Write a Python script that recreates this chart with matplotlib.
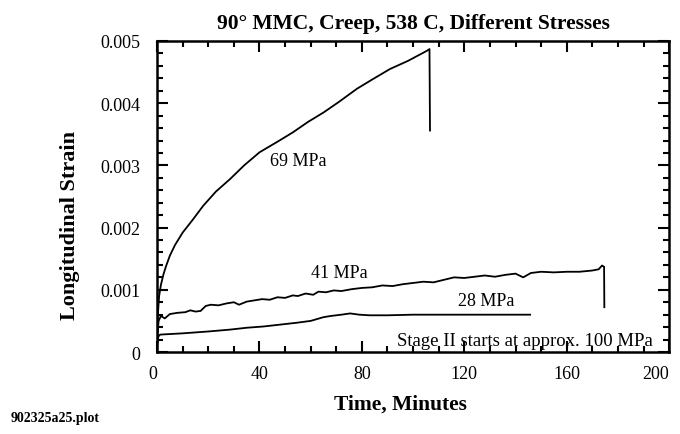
import matplotlib
matplotlib.use("Agg")
import matplotlib.pyplot as plt
from matplotlib.ticker import MultipleLocator

# creep data (time in minutes, strain)
t69 = [0, 0.3, 0.8, 1.5, 2.5, 3.5, 5, 7, 10, 14, 18, 23, 28.5, 34, 40, 47, 53,
       59, 65, 71, 78, 84, 91, 98, 105.3, 106.4, 106.6]
s69 = [0.0002, 0.0006, 0.0009, 0.00108, 0.00125, 0.00138, 0.00155, 0.00172,
       0.00192, 0.00213, 0.00235, 0.00258, 0.00278, 0.003, 0.00321, 0.00338,
       0.00353, 0.0037, 0.00385, 0.00402, 0.00423, 0.00438, 0.00455, 0.00468,
       0.00484, 0.00487, 0.00356]

t41 = [0, 0.6, 1.5, 3, 5, 8, 11, 13, 15, 17, 19, 21, 24, 27, 30, 32, 35, 38,
       41, 44, 47, 50, 53, 55, 58, 61, 63, 66, 69, 72, 76, 80, 84, 88, 92, 96,
       100, 104, 108, 112, 116, 120, 124, 128, 132, 136, 140, 143, 146, 150,
       155, 160, 165, 170, 172.5, 173.8, 174.6, 174.7]
s41 = [0.0002, 0.0005, 0.00058, 0.00054, 0.00061, 0.00063, 0.00064, 0.00067,
       0.00065, 0.00066, 0.00074, 0.00076, 0.00075, 0.00078, 0.00080, 0.00076,
       0.00081, 0.00083, 0.00085, 0.00084, 0.00088, 0.00087, 0.00091, 0.0009,
       0.00094, 0.00092, 0.00097, 0.00096, 0.00099, 0.00098, 0.00101, 0.00103,
       0.00104, 0.00107, 0.00106, 0.00109, 0.00111, 0.00113, 0.00112, 0.00116,
       0.0012, 0.00119, 0.00121, 0.00123, 0.00121, 0.00124, 0.00126, 0.0012,
       0.00127, 0.00129, 0.00128, 0.00129, 0.00129, 0.00131, 0.00133, 0.00139,
       0.00137, 0.00072]

t28 = [0, 0.5, 1.2, 10, 20, 28.5, 35, 41.5, 48, 54.5, 60, 62.5, 65, 68, 72,
       75.4, 79, 83, 90, 100, 110, 120, 130, 140, 145.7]
s28 = [0.0001, 0.00025, 0.00028, 0.0003, 0.00033, 0.00036, 0.00039, 0.00041,
       0.00044, 0.00047, 0.0005, 0.00053, 0.00056, 0.00058, 0.0006, 0.00062,
       0.0006, 0.00059, 0.00059, 0.0006, 0.0006, 0.0006, 0.0006, 0.0006, 0.0006]

xticks = [0, 40, 80, 120, 160, 200]
xticklabels = ['0', '40', '80', '120', '160', '200']
yticks = [0, 0.001, 0.002, 0.003, 0.004, 0.005]
yticklabels = ['0', '0.001', '0.002', '0.003', '0.004', '0.005']

plt.rcParams['font.family'] = ['Liberation Serif', 'DejaVu Serif']

fig = plt.figure(figsize=(6.8, 4.35), dpi=100)
ax = fig.add_axes([0.231, 0.1885, 0.753, 0.715])

for t, s in [(t69, s69), (t41, s41), (t28, s28)]:
    ax.plot(t, s, color='black', lw=1.3)

ax.set_xlim(0, 200)
ax.set_ylim(0, 0.005)
ax.set_xticks(xticks, xticklabels)
ax.set_yticks(yticks, yticklabels)
ax.xaxis.set_minor_locator(MultipleLocator(10))
ax.yaxis.set_minor_locator(MultipleLocator(0.0002))
ax.tick_params(which='both', direction='in', top=True, right=True,
               width=1.5, labelsize=13)
ax.tick_params(which='major', length=8)
ax.tick_params(which='minor', length=4)
ax.tick_params(axis='x', pad=9)
ax.tick_params(axis='y', pad=12)
for sp in ax.spines.values():
    sp.set_linewidth(1.8)

# first and last time labels sit left of their ticks in the original
xlabs = ax.get_xticklabels()
xlabs[0].set_horizontalalignment('right')
xlabs[-1].set_horizontalalignment('right')

ax.set_title('90° MMC, Creep, 538 C, Different Stresses',
             fontsize=15.5, fontweight='bold', pad=9)
ax.set_xlabel('Time, Minutes', fontsize=15.5, fontweight='bold')
ax.set_ylabel('Longitudinal Strain', fontsize=16, fontweight='bold')
ax.xaxis.set_label_coords(0.475, -0.135)
ax.yaxis.set_label_coords(-0.15, 0.41)

ax.text(55.3, 0.00308, '69 MPa', fontsize=13, ha='center', va='center')
ax.text(71, 0.00128, '41 MPa', fontsize=13, ha='center', va='center')
ax.text(128.7, 0.00083, '28 MPa', fontsize=13, ha='center', va='center')
ax.text(193.7, 0.00018, 'Stage II starts at approx. 100 MPa', fontsize=13.5,
        ha='right', va='center')

fig.text(0.015, 0.03, '902325a25.plot', fontsize=10, fontweight='bold')

fig.savefig('out.png', dpi=100)
